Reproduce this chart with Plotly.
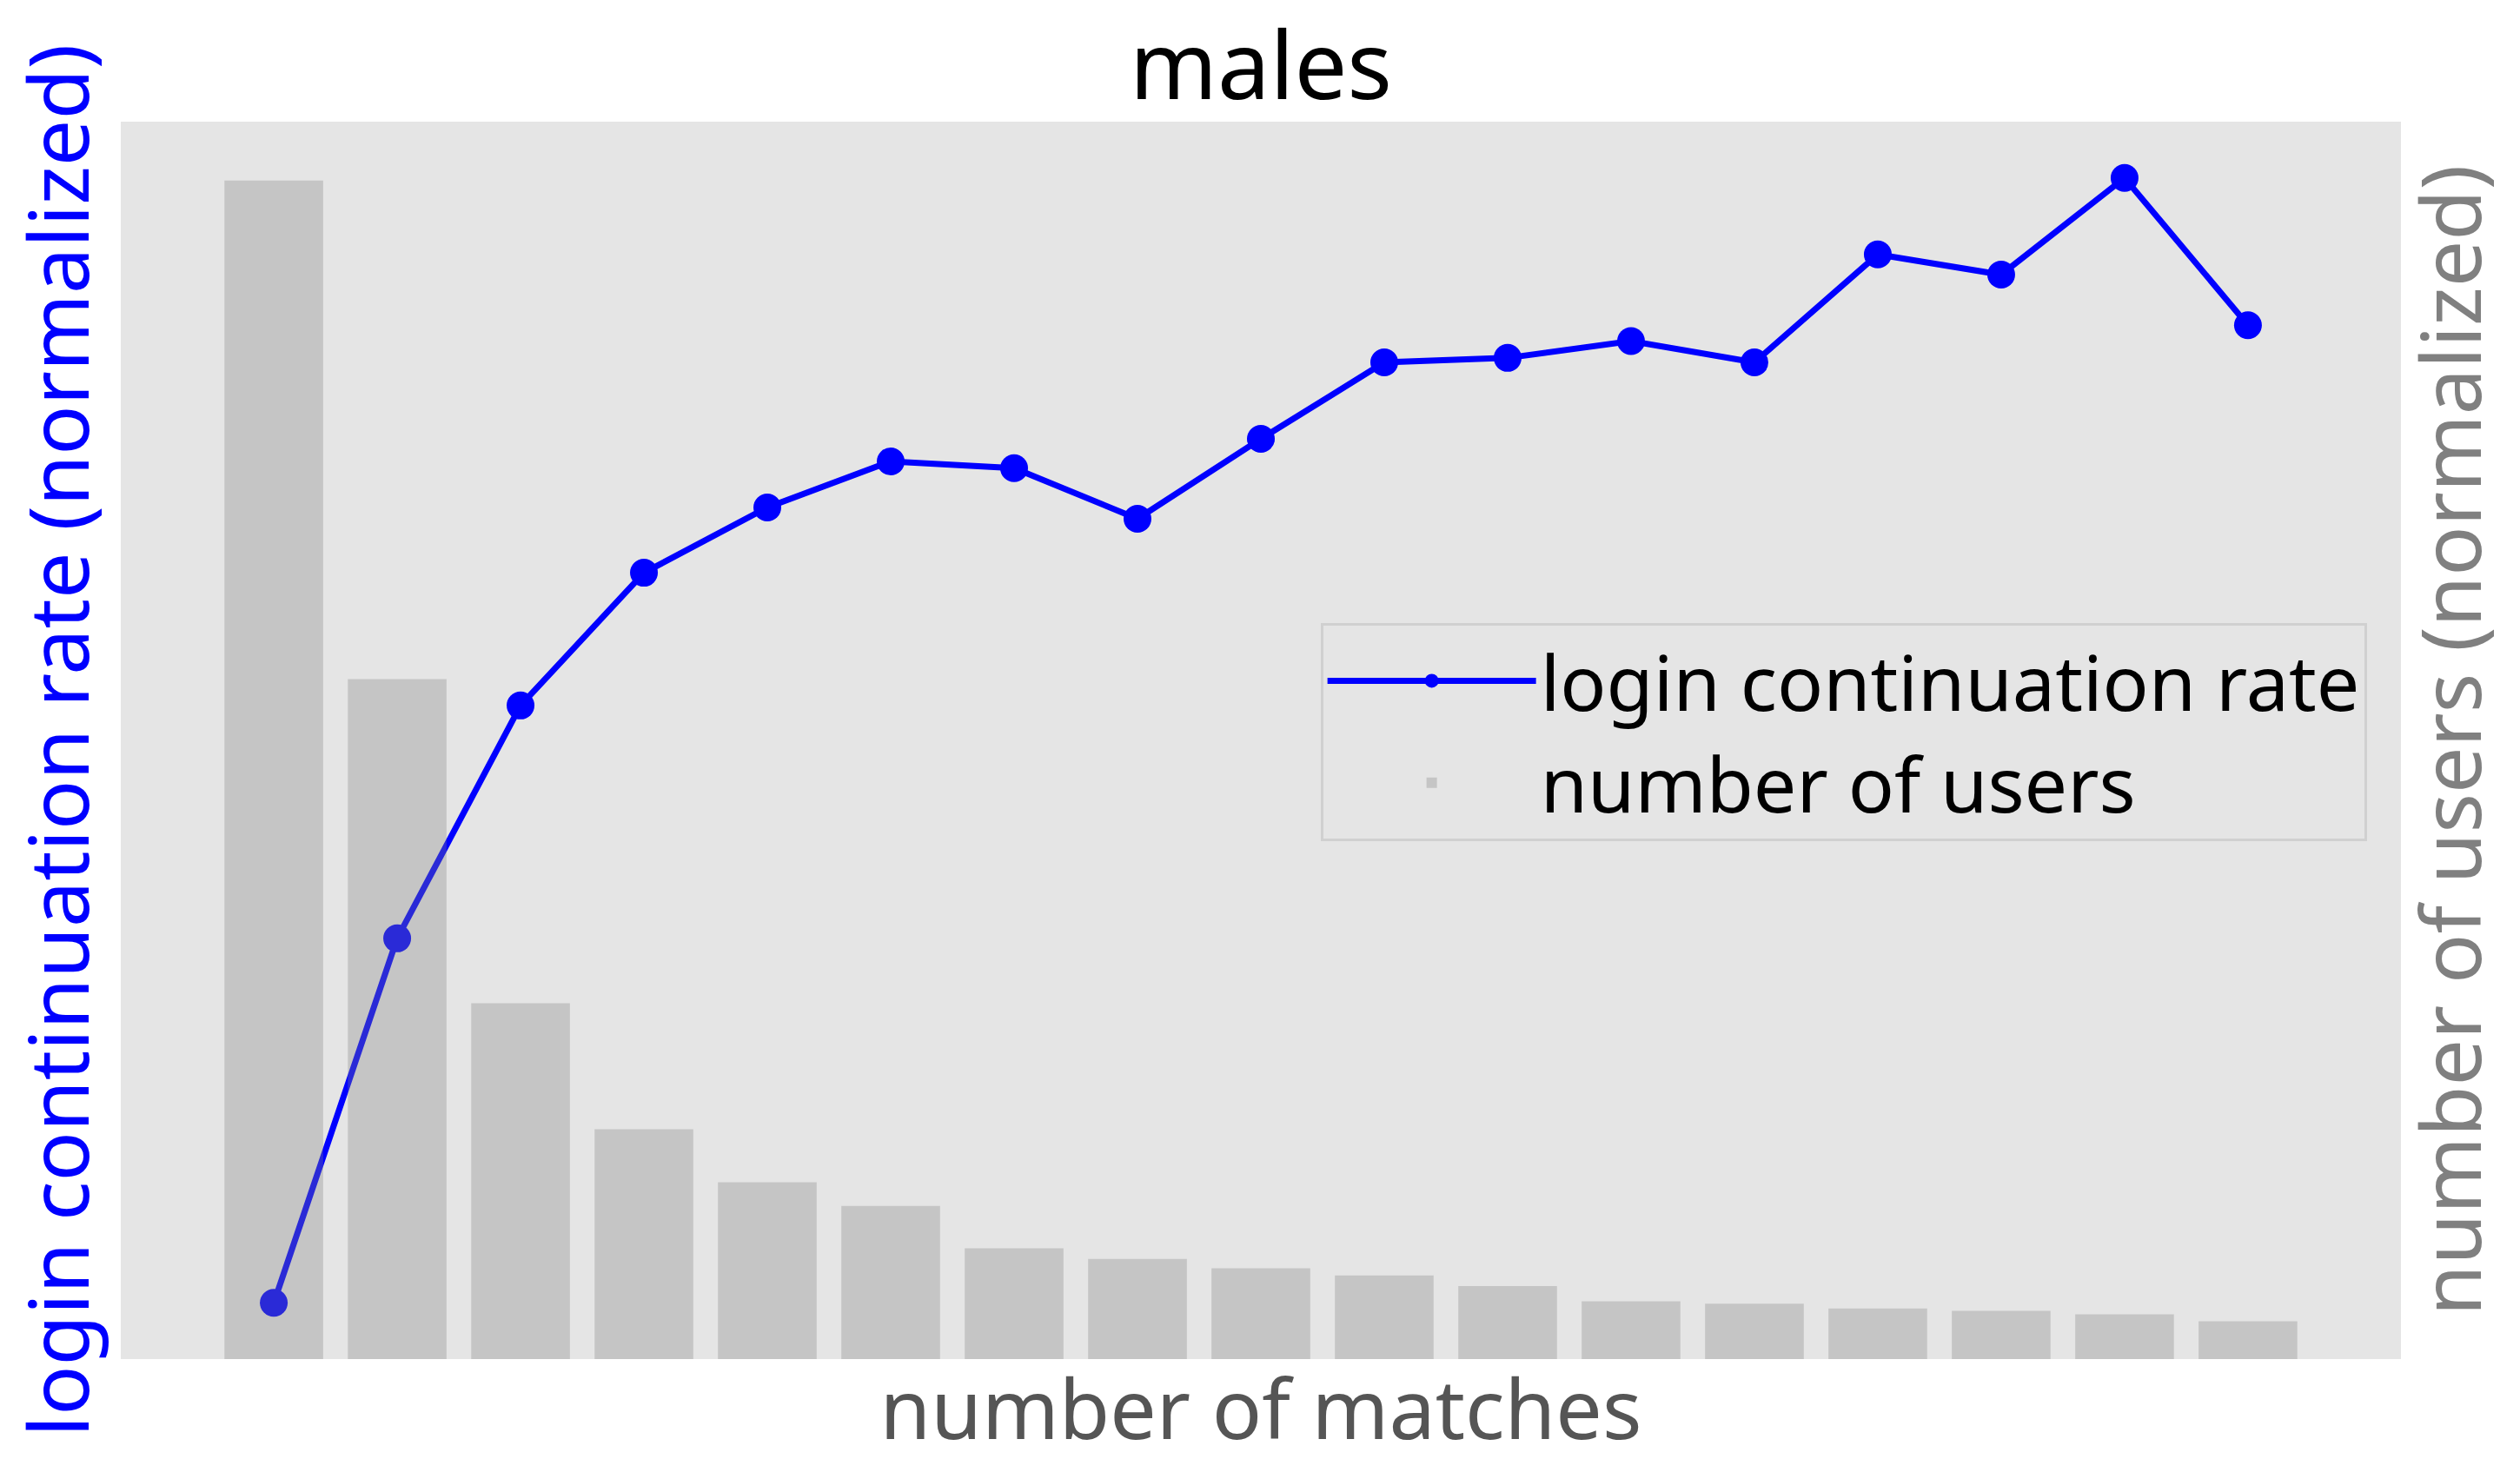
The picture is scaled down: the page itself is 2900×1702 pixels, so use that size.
import plotly.graph_objects as go

# number of matches (categories)
matches = list(range(1, 18))

# login continuation rate (normalized, left axis)
login_rate = [0.000, 0.324, 0.531, 0.649, 0.707, 0.748, 0.742, 0.697, 0.768,
              0.836, 0.840, 0.855, 0.836, 0.932, 0.914, 1.000, 0.869]

# number of users (normalized, right axis)
num_users = [1.000, 0.577, 0.302, 0.195, 0.150, 0.130, 0.094, 0.085, 0.077,
             0.071, 0.062, 0.049, 0.047, 0.043, 0.041, 0.038, 0.032]

FONT = "Noto Sans"

fig = go.Figure()
fig.add_trace(go.Scatter(
    x=matches, y=login_rate, name="login continuation rate",
    mode="lines+markers", yaxis="y",
    line=dict(color="#0000ff", width=7),
    marker=dict(color="#0000ff", size=32, line=dict(width=0)),
))
fig.add_trace(go.Bar(
    x=matches, y=num_users, name="number of users", yaxis="y2",
    width=0.8, marker=dict(color="rgba(130,130,130,0.323)", line=dict(width=0)),
))

fig.update_layout(
    width=2900, height=1702,
    margin=dict(l=139, r=137, t=140, b=138),
    paper_bgcolor="white", plot_bgcolor="#e5e5e5",
    font=dict(family=FONT, size=88, color="black"),
    title=dict(text="males", x=0.5, xanchor="center", xref="paper",
               y=1 - 76 / 1702, yref="container", yanchor="middle",
               font=dict(family=FONT, size=108, color="black")),
    xaxis=dict(range=[-0.24, 18.24], showticklabels=False, ticks="",
               showgrid=False, zeroline=False, showline=False,
               title=dict(text="number of matches", standoff=25,
                          font=dict(family=FONT, size=95, color="#555555"))),
    yaxis=dict(range=[-0.05, 1.05], showticklabels=False, ticks="",
               showgrid=False, zeroline=False, showline=False,
               title=dict(text="login continuation rate (normalized)", standoff=27,
                          font=dict(family=FONT, size=95, color="#0000ff"))),
    yaxis2=dict(range=[0, 1.05], overlaying="y", side="right",
                showticklabels=False, ticks="", showgrid=False,
                zeroline=False, showline=False,
                title=dict(text="number of users (normalized)", standoff=25,
                           font=dict(family=FONT, size=95, color="#808080"))),
    legend=dict(x=0.985, xanchor="right", y=0.595, yanchor="top",
                bgcolor="#e5e5e5", bordercolor="#d0d0d0", borderwidth=3,
                font=dict(family=FONT, size=88, color="black"),
                itemwidth=240, traceorder="normal"),
    showlegend=True,
)

fig.write_html("out.html",
               config={"displayModeBar": False},
               post_script="document.body.style.margin='0';document.body.style.overflow='hidden';")
